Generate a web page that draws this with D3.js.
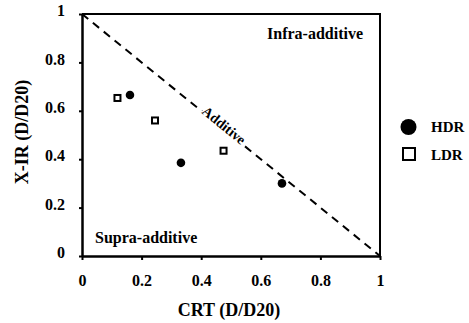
<!DOCTYPE html>
<html><head><meta charset="utf-8">
<script src="https://cdn.jsdelivr.net/npm/d3@7"></script>
<style>body{margin:0;background:#fff;}</style></head>
<body><svg id="c" width="469" height="323"></svg>
<script>
const hdrX = [0.161, 0.332, 0.671];
const hdrY = [0.665, 0.385, 0.300];
const ldrX = [0.119, 0.245, 0.475];
const ldrY = [0.653, 0.560, 0.435];
const tickVals = [0, 0.2, 0.4, 0.6, 0.8, 1];
const tickLabels = ["0", "0.2", "0.4", "0.6", "0.8", "1"];
const seriesNames = ["HDR", "LDR"];
const additiveLine = [[0, 1], [1, 0]];

const FF = "'Liberation Serif', 'Times New Roman', serif";
const svg = d3.select("#c").attr("font-family", FF).attr("font-weight", "bold");
const L = 82, R = 380, T = 14, B = 256;
const x = d3.scaleLinear().domain([0, 1]).range([L, R]);
const y = d3.scaleLinear().domain([0, 1]).range([B, T]);

// frame top & right
svg.append("path").attr("d", `M${L},${T}H${R}V${B}`).attr("fill", "none").attr("stroke", "#000").attr("stroke-width", 2);

const fmt = (d) => tickLabels[tickVals.indexOf(d)];
const xa = svg.append("g").attr("transform", `translate(0,${B})`)
  .call(d3.axisBottom(x).tickValues(tickVals).tickFormat(fmt).tickSize(4).tickSizeOuter(0).tickPadding(15));
const ya = svg.append("g").attr("transform", `translate(${L},0)`)
  .call(d3.axisLeft(y).tickValues(tickVals).tickFormat(fmt).tickSize(3).tickSizeOuter(0).tickPadding(14));
[xa, ya].forEach(a => {
  a.attr("font-family", FF).attr("font-size", 16).attr("font-weight", "bold");
  a.select(".domain").attr("stroke-width", 2.5);
  a.selectAll(".tick line").attr("stroke-width", 2);
});
ya.selectAll(".tick text").attr("dy", "0.1em");

// additive line
svg.append("path").datum(additiveLine)
  .attr("d", d3.line().x(d => x(d[0])).y(d => y(d[1])))
  .attr("stroke", "#000").attr("stroke-width", 2).attr("stroke-dasharray", "8,6").attr("fill", "none");

const ang = Math.atan2(y(0) - y(1), x(1) - x(0)) * 180 / Math.PI;
svg.append("text").attr("transform", `translate(${x(0.47)},${y(0.53)}) rotate(${ang})`)
  .attr("text-anchor", "middle").attr("dy", "0.12em").attr("font-size", 14)
  .attr("stroke", "#fff").attr("stroke-width", 3).attr("paint-order", "stroke")
  .text("Additive");

svg.append("text").attr("x", 267).attr("y", 39).attr("font-size", 16).text("Infra-additive");
svg.append("text").attr("x", 95).attr("y", 243).attr("font-size", 16).text("Supra-additive");

// data
svg.selectAll("circle.hdr").data(hdrX).join("circle").attr("class", "hdr")
  .attr("cx", d => x(d)).attr("cy", (d, i) => y(hdrY[i])).attr("r", 4.3).attr("fill", "#000");
svg.selectAll("rect.ldr").data(ldrX).join("rect").attr("class", "ldr")
  .attr("x", d => x(d) - 3).attr("y", (d, i) => y(ldrY[i]) - 3).attr("width", 6).attr("height", 6)
  .attr("fill", "#fff").attr("stroke", "#000").attr("stroke-width", 2);

// axis titles
svg.append("text").attr("x", 229).attr("y", 316).attr("text-anchor", "middle").attr("font-size", 18).text("CRT (D/D20)");
svg.append("text").attr("transform", "translate(28,132) rotate(-90)").attr("text-anchor", "middle").attr("font-size", 18).text("X-IR (D/D20)");

// legend
const lg = svg.append("g");
lg.append("circle").attr("cx", 408.5).attr("cy", 127).attr("r", 8).attr("fill", "#000");
lg.append("rect").attr("x", 403).attr("y", 148).attr("width", 12).attr("height", 12).attr("fill", "#fff").attr("stroke", "#000").attr("stroke-width", 2);
lg.selectAll("text").data(seriesNames).join("text").attr("x", 431).attr("y", (d, i) => 132 + i * 27.5).attr("font-size", 15).text(d => d);
</script></body></html>
